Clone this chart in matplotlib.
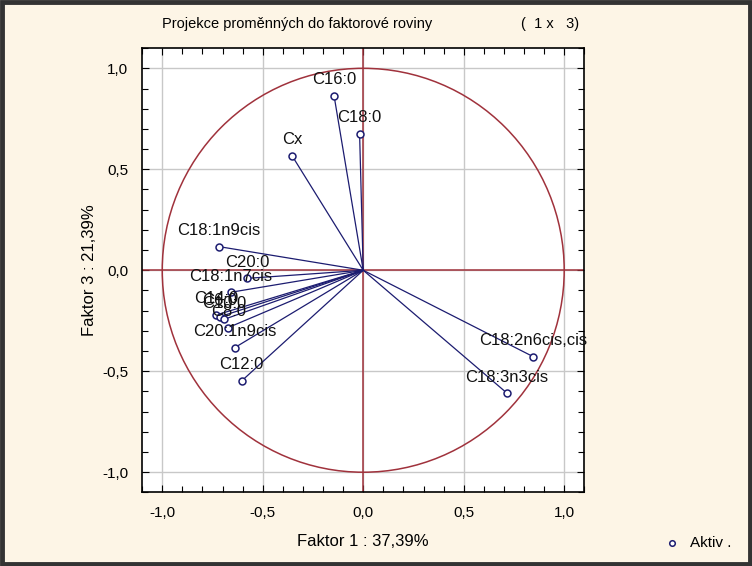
import matplotlib
matplotlib.use("Agg")
import matplotlib.pyplot as plt
import numpy as np
from matplotlib.ticker import MultipleLocator, FuncFormatter
from matplotlib.patches import Circle, Rectangle

# factor loadings (Faktor 1, Faktor 3)
variables = ["C16:0", "C18:0", "Cx", "C18:1n9cis", "C20:0", "C18:1n7cis",
             "C14:0", "C6:0", "C10:0", "C8:0", "C20:1n9cis", "C12:0",
             "C18:2n6cis,cis", "C18:3n3cis"]
faktor1 = [-0.145, -0.018, -0.354, -0.717, -0.576, -0.659,
           -0.730, -0.713, -0.692, -0.672, -0.639, -0.605,
           0.846, 0.716]
faktor3 = [0.864, 0.675, 0.567, 0.117, -0.040, -0.109,
           -0.221, -0.230, -0.243, -0.284, -0.383, -0.548,
           -0.428, -0.609]

title = "Projekce proměnných do faktorové roviny"
xlabel = "Faktor 1 : 37,39%"
ylabel = "Faktor 3 : 21,39%"

plt.rcParams["font.family"] = ["Liberation Sans", "DejaVu Sans"]

bg = "#FDF5E6"
red = "#A0323C"
navy = "#1C1C70"

fig = plt.figure(figsize=(7.52, 5.66), dpi=100, facecolor=bg)
ax = fig.add_axes([0.189, 0.130, 0.588, 0.785])
ax.set_facecolor("white")

ax.set_xlim(-1.1, 1.1)
ax.set_ylim(-1.1, 1.1)

ax.xaxis.set_major_locator(MultipleLocator(0.5))
ax.yaxis.set_major_locator(MultipleLocator(0.5))
ax.xaxis.set_minor_locator(MultipleLocator(0.1))
ax.yaxis.set_minor_locator(MultipleLocator(0.1))
fmt = FuncFormatter(lambda v, p: ("%.1f" % v).replace(".", ",").replace("-0,0", "0,0"))
ax.xaxis.set_major_formatter(fmt)
ax.yaxis.set_major_formatter(fmt)
ax.tick_params(which="both", direction="in", top=True, right=True,
               color="black", width=0.8)
ax.tick_params(which="major", length=5, labelsize=11, pad=10)
ax.tick_params(which="minor", length=4)
ax.grid(True, which="major", color="#C8C8C8", linewidth=1)
ax.set_axisbelow(True)
for s in ax.spines.values():
    s.set_linewidth(1.2)
    s.set_color("black")

# unit circle and axes through origin
ax.add_patch(Circle((0, 0), 1.0, fill=False, edgecolor=red, linewidth=1.1, zorder=2))
ax.axhline(0, color=red, linewidth=1.1, zorder=2)
ax.axvline(0, color=red, linewidth=1.1, zorder=2)

for name, fx, fy in zip(variables, faktor1, faktor3):
    ax.plot([0, fx], [0, fy], color=navy, linewidth=0.9, zorder=3)
    ax.plot(fx, fy, marker="o", markersize=5, markerfacecolor="white",
            markeredgecolor=navy, markeredgewidth=1.1, zorder=4)
    ax.annotate(name, (fx, fy), xytext=(0, 11.5), textcoords="offset points",
                ha="center", va="center", fontsize=12, color="#111111", zorder=5)

ax.set_xlabel(xlabel, fontsize=12, labelpad=10)
ax.set_ylabel(ylabel, fontsize=12, labelpad=4)

fig.text(0.215, 0.957, title, fontsize=10.5, ha="left", va="center")
fig.text(0.693, 0.957, "(  1 x   3)", fontsize=10.5, ha="left", va="center")

# legend
fig.lines.append(plt.Line2D([0.894], [0.040], transform=fig.transFigure, marker="o",
                            markersize=4, markerfacecolor="white",
                            markeredgecolor=navy, markeredgewidth=1.1))
fig.text(0.917, 0.040, "Aktiv .", fontsize=11, ha="left", va="center")

# outer frame
fig.patches.append(Rectangle((0.002, 0.003), 0.996, 0.994, transform=fig.transFigure,
                             fill=False, edgecolor="#333333", linewidth=3.5))

fig.savefig("out.png", dpi=100, facecolor=bg)
